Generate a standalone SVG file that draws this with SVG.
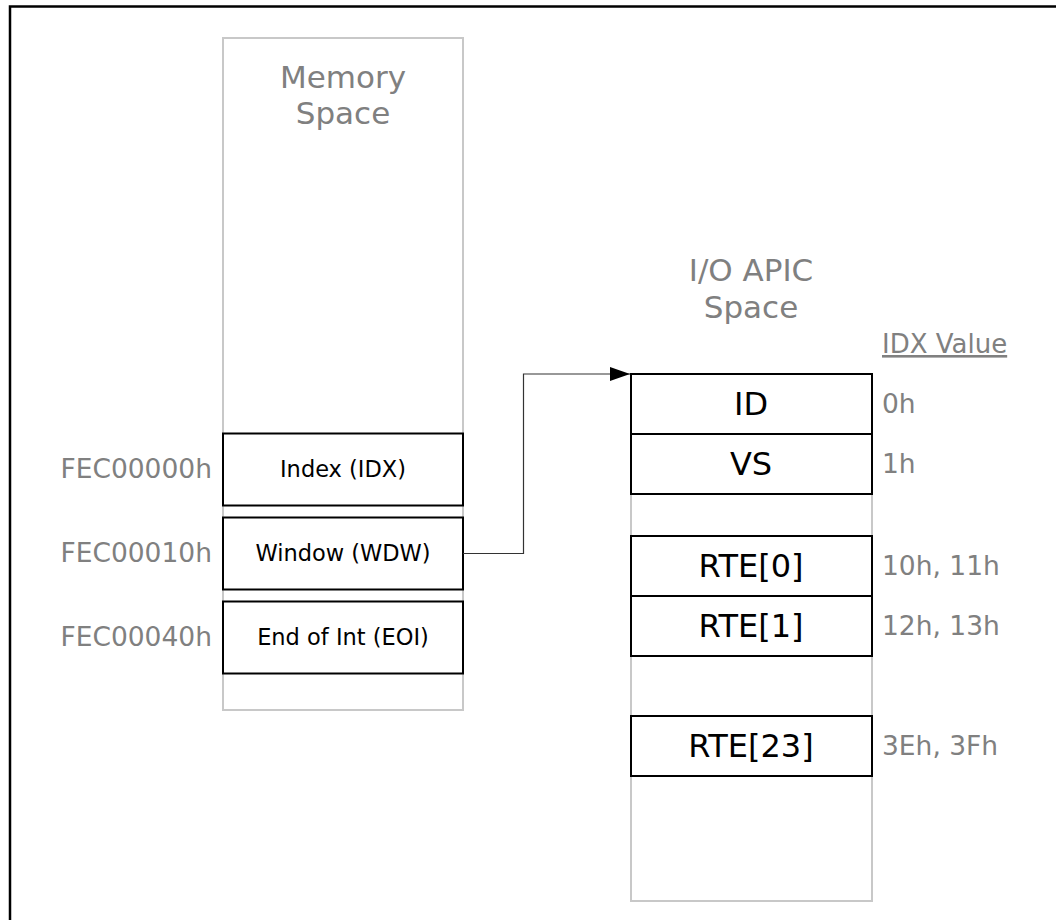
<svg xmlns="http://www.w3.org/2000/svg" width="1056" height="920" viewBox="0 0 1056 920">
<defs>
<style>
.frame{fill:none;stroke:#000;stroke-width:2.5}
.space{fill:#fff;stroke:#c8c8c8;stroke-width:2}
.reg{fill:#fff;stroke:#000;stroke-width:2}
.title{font-family:"DejaVu Sans",Verdana,sans-serif;font-size:31px;fill:#808080;text-anchor:middle}
.addr{font-family:"DejaVu Sans",Verdana,sans-serif;font-size:26.5px;fill:#808080;text-anchor:end}
.small{font-family:"DejaVu Sans",Verdana,sans-serif;font-size:22.5px;fill:#000;text-anchor:middle}
.big{font-family:"DejaVu Sans",Verdana,sans-serif;font-size:32px;fill:#000;text-anchor:middle}
.idx{font-family:"DejaVu Sans",Verdana,sans-serif;font-size:26.5px;fill:#808080}
.hdr{font-family:"DejaVu Sans",Verdana,sans-serif;font-size:26px;fill:#808080;text-decoration:underline}
.conn{fill:none;stroke:#333;stroke-width:1.2}
</style>
<marker id="arrow" markerWidth="20" markerHeight="14" refX="20" refY="7" orient="auto" markerUnits="userSpaceOnUse">
<path d="M0,0 L20,7 L0,14 Z" fill="#000"/>
</marker>
</defs>
<rect class="frame" x="10" y="6.5" width="1100" height="1000"/>
<g id="memory-space">
<rect class="space" x="223" y="38" width="240" height="672"/>
<text class="title" x="343" y="88">Memory</text>
<text class="title" x="343" y="124">Space</text>
</g>
<g id="idx-reg">
<rect class="reg" x="223" y="433.5" width="240" height="72"/>
<text class="small" x="343" y="477">Index (IDX)</text>
<text class="addr" x="212" y="478">FEC00000h</text>
</g>
<g id="wdw-reg">
<rect class="reg" x="223" y="517.5" width="240" height="72"/>
<text class="small" x="343" y="561">Window (WDW)</text>
<text class="addr" x="212" y="562">FEC00010h</text>
</g>
<g id="eoi-reg">
<rect class="reg" x="223" y="601.5" width="240" height="72"/>
<text class="small" x="343" y="645">End of Int (EOI)</text>
<text class="addr" x="212" y="646">FEC00040h</text>
</g>
<g id="ioapic-space">
<rect class="space" x="631" y="374" width="241" height="527"/>
<text class="title" x="751" y="281">I/O APIC</text>
<text class="title" x="751" y="318">Space</text>
<text class="hdr" x="882" y="353">IDX Value</text>
</g>
<g id="id-reg">
<rect class="reg" x="631" y="374" width="241" height="60"/>
<text class="big" x="751" y="415">ID</text>
<text class="idx" x="882" y="413">0h</text>
</g>
<g id="vs-reg">
<rect class="reg" x="631" y="434" width="241" height="60"/>
<text class="big" x="751" y="475">VS</text>
<text class="idx" x="882" y="473">1h</text>
</g>
<g id="rte0-reg">
<rect class="reg" x="631" y="536" width="241" height="60"/>
<text class="big" x="751" y="577">RTE[0]</text>
<text class="idx" x="882" y="575">10h, 11h</text>
</g>
<g id="rte1-reg">
<rect class="reg" x="631" y="596" width="241" height="60"/>
<text class="big" x="751" y="637">RTE[1]</text>
<text class="idx" x="882" y="635">12h, 13h</text>
</g>
<g id="rte23-reg">
<rect class="reg" x="631" y="716" width="241" height="60"/>
<text class="big" x="751" y="757">RTE[23]</text>
<text class="idx" x="882" y="755">3Eh, 3Fh</text>
</g>
<g id="connectors">
<path class="conn" d="M463,553.5 H523.5 V374 H630" marker-end="url(#arrow)"/>
</g>
</svg>
